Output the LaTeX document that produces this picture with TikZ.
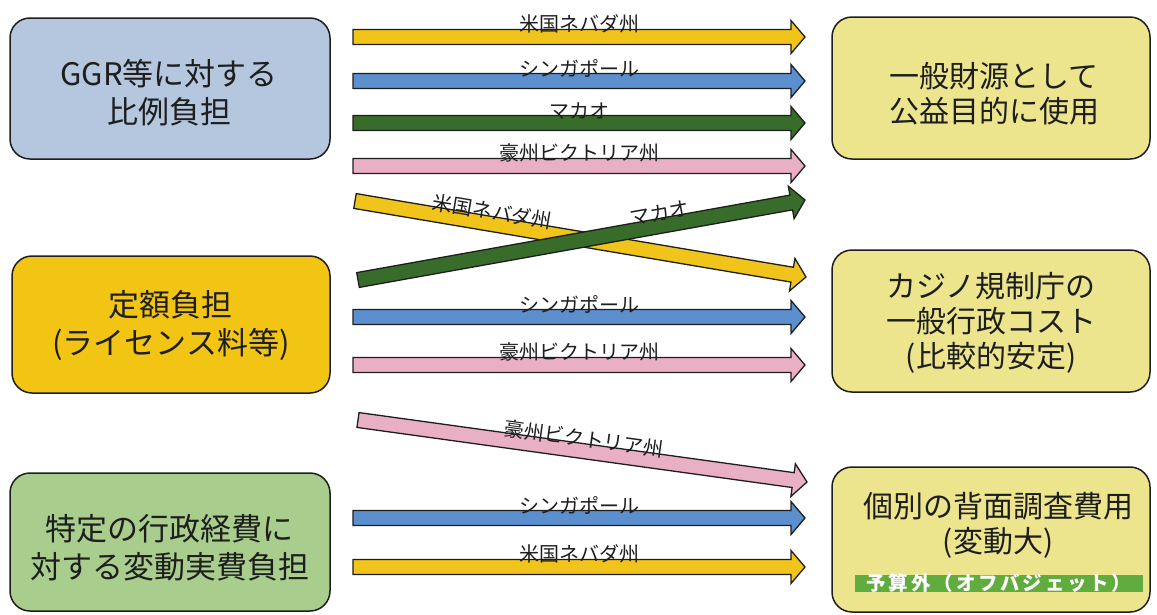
\documentclass[tikz,border=0pt]{standalone}
\usepackage{fontspec}
\newfontfamily\jp{Noto Sans CJK JP}
\usetikzlibrary{calc}
\definecolor{ayel}{RGB}{240,196,26}
\definecolor{ablu}{RGB}{92,143,206}
\definecolor{agrn}{RGB}{56,108,42}
\definecolor{apnk}{RGB}{233,175,196}
\definecolor{lbl}{RGB}{180,199,222}
\definecolor{lyl}{RGB}{242,196,20}
\definecolor{lgr}{RGB}{168,205,140}
\definecolor{rbx}{RGB}{237,229,142}
\definecolor{gbar}{RGB}{96,172,62}
\definecolor{ink}{RGB}{30,30,30}
\tikzset{
  box/.style={draw=ink, line width=1.5pt, rounded corners=20pt, inner sep=0pt},
  ltxt/.style={align=center, inner sep=0pt, text=ink, font=\jp\fontsize{31}{38}\selectfont},
  rtxt/.style={align=center, inner sep=0pt, text=ink, font=\jp\fontsize{30}{35}\selectfont},
  lab/.style={font=\jp\fontsize{20}{20}\selectfont, inner sep=0pt, text=ink},
  fat/.style={draw=ink, line width=1.3pt, line join=miter},
}
\newcommand\fatarrow[3]{%
  \coordinate (hh) at ($(#2)!14pt!(#1)$);
  \filldraw[fat, fill=#3] ($(#1)!7.5pt!-90:(#2)$) -- ($(hh)!7.5pt!-90:(#2)$) -- ($(hh)!16.5pt!-90:(#2)$) -- (#2) -- ($(hh)!16.5pt!90:(#2)$) -- ($(hh)!7.5pt!90:(#2)$) -- ($(#1)!7.5pt!90:(#2)$) -- cycle;}
\begin{document}
\begin{tikzpicture}[x=1pt,y=-1pt]
\useasboundingbox (0,0) rectangle (1157,614);
% left boxes
\node[box, fill=lbl, minimum width=320pt, minimum height=141pt] (L1) at (170,88.5) {};
\node[box, fill=lyl, minimum width=318pt, minimum height=137pt] (L2) at (171,324.5) {};
\node[box, fill=lgr, minimum width=320pt, minimum height=138pt] (L3) at (170,542) {};
\node[ltxt] (L1t) at (169,93) {GGR等に対する\\比例負担};
\node[ltxt] (L2t) at (171,326) {定額負担\\(ライセンス料等)};
\node[ltxt] (L3t) at (170,548) {特定の行政経費に\\対する変動実費負担};
% right boxes
\node[box, fill=rbx, minimum width=318pt, minimum height=142pt] (R1) at (991,88) {};
\node[box, fill=rbx, minimum width=318pt, minimum height=142pt] (R2) at (991,321) {};
\node[box, fill=rbx, minimum width=318pt, minimum height=145pt] (R3) at (991,539.5) {};
\node[rtxt] (R1t) at (994,94) {一般財源として\\公益目的に使用};
\node[rtxt] (R2t) at (991,323) {カジノ規制庁の\\一般行政コスト\\(比較的安定)};
\node[rtxt] (R3t) at (998,525.5) {個別の背面調査費用\\(変動大)};
\node[fill=gbar, minimum width=288pt, minimum height=17pt, inner sep=0pt] (off) at (999,583.5) {};
\node[inner sep=0pt, text=white, font=\jp\bfseries\fontsize{19.5}{19.5}\selectfont\addfontfeatures{LetterSpace=14}] (offt) at (999,583.5) {予算外\,（オフバジェット）};
% arrow end points
\coordinate (a1s) at (353,37);  \coordinate (a1e) at (805,37);
\coordinate (a2s) at (353,81);  \coordinate (a2e) at (805,81);
\coordinate (a3s) at (353,123); \coordinate (a3e) at (805,123);
\coordinate (a4s) at (353,166); \coordinate (a4e) at (805,166);
\coordinate (d1s) at (355,201); \coordinate (d1e) at (806,277);
\coordinate (d2s) at (358,280); \coordinate (d2e) at (805,200);
\coordinate (a5s) at (353,317); \coordinate (a5e) at (805,317);
\coordinate (a6s) at (353,365); \coordinate (a6e) at (805,365);
\coordinate (d3s) at (358,420); \coordinate (d3e) at (807,482);
\coordinate (a7s) at (353,518); \coordinate (a7e) at (805,518);
\coordinate (a8s) at (353,567); \coordinate (a8e) at (805,567);
% arrows
\fatarrow{a1s}{a1e}{ayel}
\fatarrow{a2s}{a2e}{ablu}
\fatarrow{a3s}{a3e}{agrn}
\fatarrow{a4s}{a4e}{apnk}
\fatarrow{d1s}{d1e}{ayel}
\fatarrow{d2s}{d2e}{agrn}
\fatarrow{a5s}{a5e}{ablu}
\fatarrow{a6s}{a6e}{apnk}
\fatarrow{d3s}{d3e}{apnk}
\fatarrow{a7s}{a7e}{ablu}
\fatarrow{a8s}{a8e}{ayel}
% labels
\path (a1s) -- (a1e) node[lab, midway, above=3.5pt] (t1) {米国ネバダ州};
\path (a2s) -- (a2e) node[lab, midway, above=3.5pt] (t2) {シンガポール};
\path (a3s) -- (a3e) node[lab, midway, above=3.5pt] (t3) {マカオ};
\path (a4s) -- (a4e) node[lab, midway, above=3.5pt] (t4) {豪州ビクトリア州};
\path (d1s) -- (d1e) node[lab, pos=0.3, sloped, above=3pt] (t5) {米国ネバダ州};
\path (d2s) -- (d2e) node[lab, pos=0.68, sloped, above=4pt] (t6) {マカオ};
\path (a5s) -- (a5e) node[lab, midway, above=3.5pt] (t7) {シンガポール};
\path (a6s) -- (a6e) node[lab, midway, above=3.5pt] (t8) {豪州ビクトリア州};
\path (d3s) -- (d3e) node[lab, pos=0.5, sloped, above=3pt] (t9) {豪州ビクトリア州};
\path (a7s) -- (a7e) node[lab, midway, above=3.5pt] (t10) {シンガポール};
\path (a8s) -- (a8e) node[lab, midway, above=3.5pt] (t11) {米国ネバダ州};
\end{tikzpicture}
\end{document}
